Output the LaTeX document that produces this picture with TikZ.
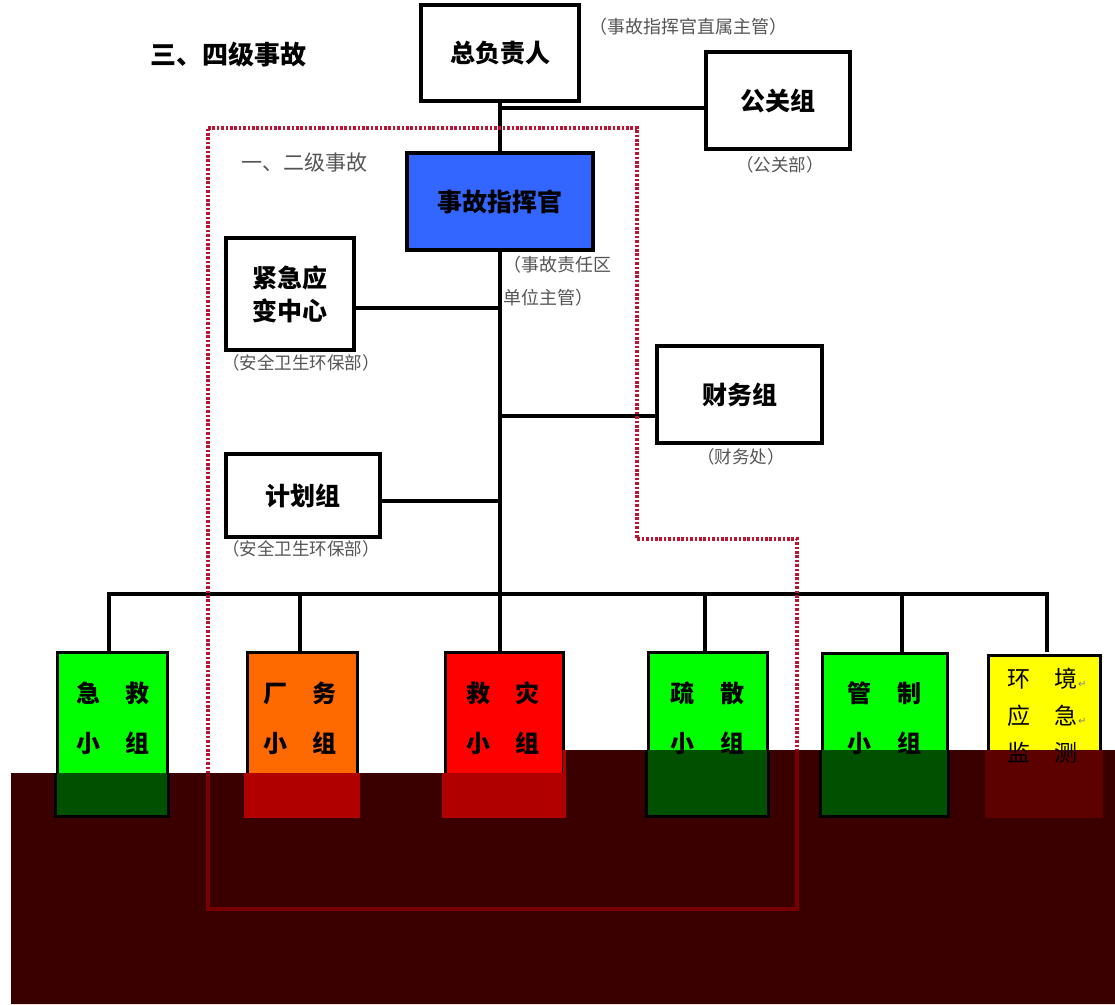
\documentclass[tikz,border=0pt]{standalone}
\usepackage{fontspec}
\newfontfamily\cjk{Noto Sans CJK SC}
\newfontfamily\arrowfnt{DejaVu Sans}
\usetikzlibrary{calc}

\definecolor{cmdblue}{RGB}{51,102,255}
\definecolor{grpgreen}{RGB}{0,255,0}
\definecolor{grporange}{RGB}{255,106,0}
\definecolor{grpred}{RGB}{255,0,0}
\definecolor{grpyellow}{RGB}{255,255,0}
\definecolor{framered}{RGB}{190,20,50}
\definecolor{bandcol}{RGB}{58,0,0}
\definecolor{bandgreen}{RGB}{0,80,0}
\definecolor{bandred}{RGB}{176,0,0}
\definecolor{bandyellow}{RGB}{92,0,0}
\definecolor{bandframe}{RGB}{120,0,0}
\definecolor{notegray}{RGB}{85,85,85}

\tikzset{
  box/.style={draw, line width=3.2pt, inner sep=0pt, align=center,
    font={\cjk\bfseries\fontsize{25}{33}\selectfont}},
  grp/.style={draw, line width=3pt, inner sep=0pt},
  grptext/.style={inner sep=0pt, align=center,
    font={\cjk\bfseries\fontsize{24}{50}\selectfont}},
  note/.style={inner sep=0pt, text=notegray,
    font={\cjk\fontsize{17.5}{33}\selectfont}},
  link/.style={line width=3.3pt, line cap=rect},
  dotframe/.style={framered, line width=3.4pt, dash pattern=on 2.6pt off 1.8pt},
}

\begin{document}
\begin{tikzpicture}[x=1pt,y=-1pt]
  \useasboundingbox[fill=white] (0,0) rectangle (1115,1004);

  % titles
  \node[inner sep=0pt, font={\cjk\bfseries\fontsize{26}{30}\selectfont}] (title) at (228,55) {三、四级事故};
  \node[note, font={\cjk\fontsize{21}{25}\selectfont}] (erji) at (304,163) {一、二级事故};

  % upper boxes
  \node[box, minimum width=158pt, minimum height=96pt] (zfz) at (500,53) {总负责人};
  \node[box, minimum width=144pt, minimum height=97pt] (ggz) at (778,100.5) {公关组};
  \node[box, fill=cmdblue, minimum width=186pt, minimum height=97pt] (zhg) at (500,201.5) {事故指挥官};
  \node[box, minimum width=128pt, minimum height=112pt] (jjyb) at (290,294) {紧急应\\变中心};
  \node[box, minimum width=154pt, minimum height=83pt] (jhz) at (303,495.5) {计划组};
  \node[box, minimum width=165pt, minimum height=97pt] (cwz) at (739.5,394.5) {财务组};

  \node[note, font={\cjk\fontsize{18}{22}\selectfont}] (zfz-n) at (688,27) {（事故指挥官直属主管）};
  \node[note] (ggz-n) at (780,165) {（公关部）};
  \node[note, font={\cjk\fontsize{18}{33}\selectfont}, align=left, anchor=west] (zhg-n) at (503,281) {（事故责任区\\单位主管）};
  \node[note] (jjyb-n) at (301,363) {（安全卫生环保部）};
  \node[note] (jhz-n) at (301,549) {（安全卫生环保部）};
  \node[note] (cwz-n) at (741,457) {（财务处）};

  % group boxes
  \foreach \n/\x/\y/\w/\h/\c in {jijiu/112/733.5/110/163/grpgreen,
      changwu/302/733.5/110/163/grporange, jiuzai/504/733.5/118/163/grpred,
      shusan/707.5/733.5/119/163/grpgreen, guanzhi/884.5/734/125/162/grpgreen,
      huanjing/1044/735/112/160/grpyellow}
    \node[grp, fill=\c, minimum width=\w pt, minimum height=\h pt] (\n) at (\x,\y) {};

  % connectors
  \coordinate (t-gg) at (500,108);
  \coordinate (t-jj) at (500,308);
  \coordinate (t-cw) at (500,416);
  \coordinate (t-jh) at (500,501);
  \coordinate (bus) at (500,594);
  \coordinate (hj-bend) at (1047,594);

  \draw[link] (zfz.south) -- (zhg.north);
  \draw[link] (zhg.south) -- (bus);
  \draw[link] (t-gg) -- (t-gg -| ggz.west);
  \draw[link] (t-jj -| jjyb.east) -- (t-jj);
  \draw[link] (t-cw) -- (t-cw -| cwz.west);
  \draw[link] (t-jh -| jhz.east) -- (t-jh);
  \draw[link] (109,0 |- bus) -- (hj-bend) -- (hj-bend |- 0,650);
  \foreach \n/\x in {jijiu/109, changwu/300, jiuzai/500, shusan/705, guanzhi/902}
    \draw[link] (\x,0 |- bus) -- (\x,0 |- \n.north);

  % frame of level one and two
  \draw[dotframe] (208,128) -- (637,128) -- (637,539) -- (797,539) -- (797,909) -- (208,909) -- cycle;

  % dark band over the bottom
  \fill[bandcol] (11,773) -- (563,773) -- (563,750) -- (1115,750) -- (1115,1004) -- (11,1004) -- cycle;
  \begin{scope}
    \clip (11,773) -- (563,773) -- (563,750) -- (1115,750) -- (1115,1004) -- (11,1004) -- cycle;
    \draw[bandframe, line width=3.4pt] (208,128) -- (637,128) -- (637,539) -- (797,539) -- (797,909) -- (208,909) -- cycle;
    \foreach \n/\c/\d in {jijiu/bandgreen/black, changwu/bandred/bandred, jiuzai/bandred/bandred,
        shusan/bandgreen/black, guanzhi/bandgreen/black, huanjing/bandyellow/bandyellow}
      \filldraw[fill=\c, draw=\d, line width=3pt] (\n.north west) rectangle (\n.south east);
  \end{scope}

  % group texts
  \node[grptext] (jijiu-t) at ($(jijiu.north)+(1,68)$) {急\hspace{26pt}救\\小\hspace{26pt}组};
  \node[grptext] (changwu-t) at ($(changwu.north)+(-2,68)$) {厂\hspace{26pt}务\\小\hspace{26pt}组};
  \node[grptext] (jiuzai-t) at ($(jiuzai.north)+(-1,68)$) {救\hspace{26pt}灾\\小\hspace{26pt}组};
  \node[grptext] (shusan-t) at ($(shusan.north)+(0,68)$) {疏\hspace{26pt}散\\小\hspace{26pt}组};
  \node[grptext] (guanzhi-t) at ($(guanzhi.north)+(0,67)$) {管\hspace{26pt}制\\小\hspace{26pt}组};
  \node[grptext, font={\cjk\fontsize{23}{37}\selectfont}] (huanjing-t) at ($(huanjing.north)+(-1.5,62)$)
    {环\hspace{25pt}境\rlap{\arrowfnt\fontsize{10}{10}\selectfont\color{gray}↵}\\
     应\hspace{25pt}急\rlap{\arrowfnt\fontsize{10}{10}\selectfont\color{gray}↵}\\
     监\hspace{25pt}测};
\end{tikzpicture}
\end{document}
